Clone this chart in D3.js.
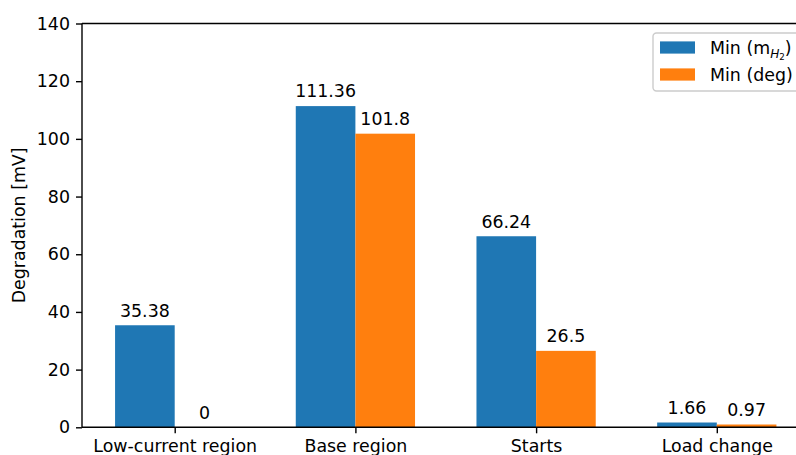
<!DOCTYPE html>
<html>
<head>
<meta charset="utf-8">
<script src="https://cdn.jsdelivr.net/npm/d3@7"></script>
<style>
  html, body { margin: 0; padding: 0; background: #fff; }
  svg { display: block; font-family: "DejaVu Sans", sans-serif; }
</style>
</head>
<body>
<svg id="chart" width="796" height="455"></svg>
<script>
// Degradation per operating condition, two estimation methods
const categories = ["Low-current region", "Base region", "Starts", "Load change"];
const minMH2 = [35.38, 111.36, 66.24, 1.66];
const minDeg = [0, 101.8, 26.5, 0.97];
const yTicks = [0, 20, 40, 60, 80, 100, 120, 140];
const seriesNames = ["Min (m", "Min (deg)"];
const colors = ["#1f77b4", "#ff7f0e"];

(function draw() {
  const fs = 17.4;
  const svg = d3.select("#chart");
  const plotLeft = 82, plotTop = 23.5, plotBottom = 427.3;
  const barW = 0.33;

  // x extent from bar edges plus 5% padding on each side
  const lo = -barW, hi = categories.length - 1 + barW;
  const pad = (hi - lo) * 0.05;
  const unitPx = 180.7;
  const plotRight = plotLeft + (hi - lo + 2 * pad) * unitPx;

  const x = d3.scaleLinear().domain([lo - pad, hi + pad]).range([plotLeft, plotRight]);
  const y = d3.scaleLinear().domain([0, 140]).range([plotBottom, plotTop]);

  const series = [minMH2, minDeg];
  const offsets = [-barW / 2, barW / 2];

  // bars and their value labels
  series.forEach((vals, s) => {
    svg.append("g").selectAll("rect")
      .data(vals)
      .join("rect")
      .attr("x", (d, i) => x(i + offsets[s] - barW / 2))
      .attr("width", x(barW) - x(0))
      .attr("y", d => y(d))
      .attr("height", d => y(0) - y(d))
      .attr("fill", colors[s]);

    svg.append("g").selectAll("text")
      .data(vals)
      .join("text")
      .attr("x", (d, i) => x(i + offsets[s]))
      .attr("y", d => y(d) - 8.7)
      .attr("text-anchor", "middle")
      .attr("font-size", fs)
      .attr("fill", "#000")
      .text(d => String(d));
  });

  // frame
  const frame = svg.append("g").attr("stroke", "#000").attr("stroke-width", 1.4).attr("fill", "none");
  frame.append("line").attr("x1", plotLeft).attr("x2", plotLeft).attr("y1", plotTop).attr("y2", plotBottom);
  frame.append("line").attr("x1", plotLeft).attr("x2", plotRight).attr("y1", plotBottom).attr("y2", plotBottom);
  frame.append("line").attr("x1", plotLeft).attr("x2", plotRight).attr("y1", plotTop).attr("y2", plotTop);
  frame.append("line").attr("x1", plotRight).attr("x2", plotRight).attr("y1", plotTop).attr("y2", plotBottom);

  // y axis
  const yAxis = d3.axisLeft(y).tickValues(yTicks).tickSize(6).tickPadding(6).tickFormat(d3.format("d"));
  const gy = svg.append("g").attr("transform", `translate(${plotLeft},0)`).call(yAxis);
  gy.select(".domain").remove();
  gy.selectAll(".tick line").attr("stroke", "#000").attr("stroke-width", 1.4);
  gy.selectAll(".tick text").attr("font-size", fs).attr("font-family", "DejaVu Sans").attr("fill", "#000");

  // x axis
  const xAxis = d3.axisBottom(x).tickValues(d3.range(categories.length)).tickSize(6).tickPadding(6)
    .tickFormat(i => categories[i]);
  const gx = svg.append("g").attr("transform", `translate(0,${plotBottom})`).call(xAxis);
  gx.select(".domain").remove();
  gx.selectAll(".tick line").attr("stroke", "#000").attr("stroke-width", 1.4);
  gx.selectAll(".tick text").attr("font-size", fs).attr("font-family", "DejaVu Sans").attr("fill", "#000");

  // y axis title
  svg.append("text")
    .attr("transform", `translate(24.5,${(plotTop + plotBottom) / 2}) rotate(-90)`)
    .attr("text-anchor", "middle")
    .attr("font-size", fs)
    .attr("fill", "#000")
    .text("Degradation [mV]");

  // legend
  const lg = svg.append("g").attr("transform", "translate(653,33)");
  lg.append("rect")
    .attr("x", 0).attr("y", 0).attr("width", 160).attr("height", 58)
    .attr("rx", 3.5)
    .attr("fill", "#fff").attr("fill-opacity", 0.8)
    .attr("stroke", "#cccccc").attr("stroke-width", 1.4);

  const rowY = [14.5, 41.5];
  series.forEach((_, s) => {
    lg.append("rect")
      .attr("x", 7).attr("y", rowY[s] - 6.1).attr("width", 35).attr("height", 12.2)
      .attr("fill", colors[s]);
  });

  const t1 = lg.append("text").attr("x", 57).attr("y", rowY[0] + 6.3)
    .attr("font-size", fs).attr("fill", "#000");
  t1.append("tspan").text(seriesNames[0]);
  t1.append("tspan").attr("font-style", "italic").attr("font-size", fs * 0.7).attr("dy", 4).text("H");
  t1.append("tspan").attr("font-size", fs * 0.5).attr("dy", 2.5).text("2");
  t1.append("tspan").attr("dy", -6.5).text(")");

  lg.append("text").attr("x", 57).attr("y", rowY[1] + 6.3)
    .attr("font-size", fs).attr("fill", "#000")
    .text(seriesNames[1]);
})();
</script>
</body>
</html>
